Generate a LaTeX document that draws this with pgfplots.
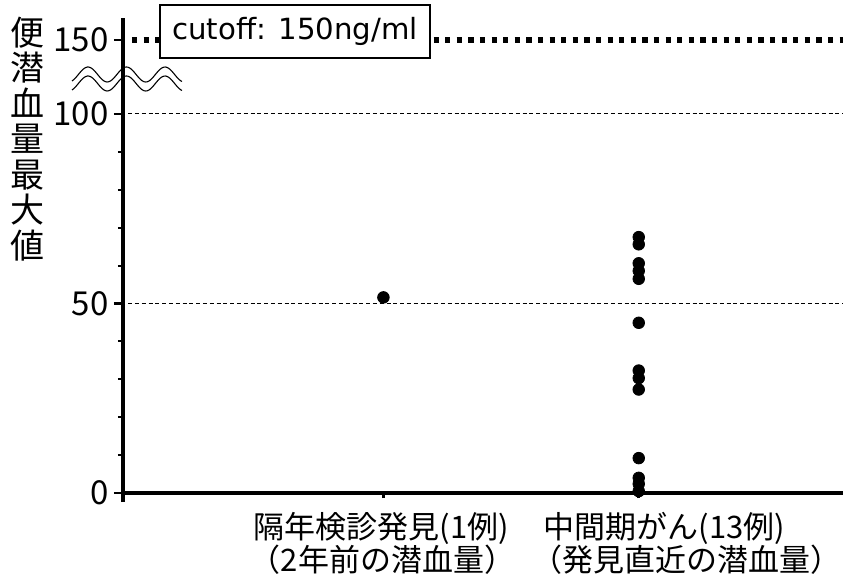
\documentclass[border=0pt]{standalone}
\usepackage{pgfplots}
\pgfplotsset{compat=1.18}
\usepackage{fontspec}
\setmainfont{Noto Sans CJK JP}
\newfontfamily\dejavu{DejaVu Sans}
\begin{document}
\begin{tikzpicture}
\useasboundingbox (-61.5pt,-46pt) rectangle (360pt,246.5pt);
\begin{axis}[name=a, at={(0,0)}, anchor=south west, scale only axis,
  width=360pt, height=237.5pt,
  xmin=-0.02, xmax=2.8, ymin=0, ymax=125.3,
  axis x line*=bottom, axis y line*=left,
  xtick={1,2}, xticklabels={,},
  ytick={0,50,100,119.5}, yticklabels={0,50,100,150},
  minor ytick={10,20,30,40,60,70,80,90},
  tick align=outside, major tick length=4.5pt, minor tick length=2.5pt,
  tick style={black, line width=1.4pt},
  minor tick style={line width=1pt},
  xtick style={/pgfplots/major tick length=2.5pt},
  axis line style={line width=1.6pt},
  y axis line style={shorten <=-4.5pt},
  yticklabel style={font=\fontsize{16.5}{17}\selectfont, inner sep=2.5pt},
  clip=false]
\draw[line width=0.45pt, dash pattern=on 2pt off 1.4pt] (axis cs:0,50) -- (axis cs:2.8,50);
\draw[line width=0.45pt, dash pattern=on 2pt off 1.4pt] (axis cs:0,100) -- (axis cs:2.8,100);
\draw[line width=2.7pt, dash pattern=on 2.6pt off 3.2pt] (axis cs:0.015,119.5) -- (axis cs:2.8,119.5);
\addplot[only marks, mark=*, mark size=2.9pt, black] coordinates {(1,51.6)};
\addplot[only marks, mark=*, mark size=2.9pt, black] coordinates {
(2,67.5) (2,65.6) (2,60.6) (2,58.6) (2,56.5) (2,44.9)
(2,32.3) (2,30.3) (2,27.3) (2,9.2) (2,4.0) (2,2.4) (2,0.5)};
\end{axis}
\begin{scope}[shift={(a.south west)}]
\draw[line width=0.55pt, shift={(0pt,209.25pt)}, x=1pt, y=1pt] plot[domain=-25.5:29.5, samples=80, smooth] (\x, {3.75*cos(18.7013*(\x+17.5))});
\draw[line width=0.55pt, shift={(0pt,204.75pt)}, x=1pt, y=1pt] plot[domain=-25.5:29.5, samples=80, smooth] (\x, {3.75*cos(18.7013*(\x+17.5))});
\node[draw, line width=0.8pt, fill=white, minimum width=135pt, minimum height=26.5pt, inner sep=0pt, font=\dejavu\fontsize{14.6}{16}\selectfont] at (86pt,230.75pt) {cutoff: 150ng/ml};
\node[align=center, inner sep=0pt, font=\fontsize{17}{17.75}\selectfont] at (-47.5pt,177pt) {便\\潜\\血\\量\\最\\大\\値};
\node[inner sep=0pt, font=\fontsize{15.5}{16}\selectfont] at (129.25pt,-17.75pt) {隔年検診発見(1例)};
\node[inner sep=0pt, font=\fontsize{15.5}{16}\selectfont] at (129.75pt,-33.5pt) {（2年前の潜血量）};
\node[inner sep=0pt, font=\fontsize{15.5}{16}\selectfont] at (270.75pt,-17.75pt) {中間期がん(13例)};
\node[inner sep=0pt, font=\fontsize{15.5}{16}\selectfont] at (282pt,-33.5pt) {（発見直近の潜血量）};
\end{scope}
\end{tikzpicture}
\end{document}
